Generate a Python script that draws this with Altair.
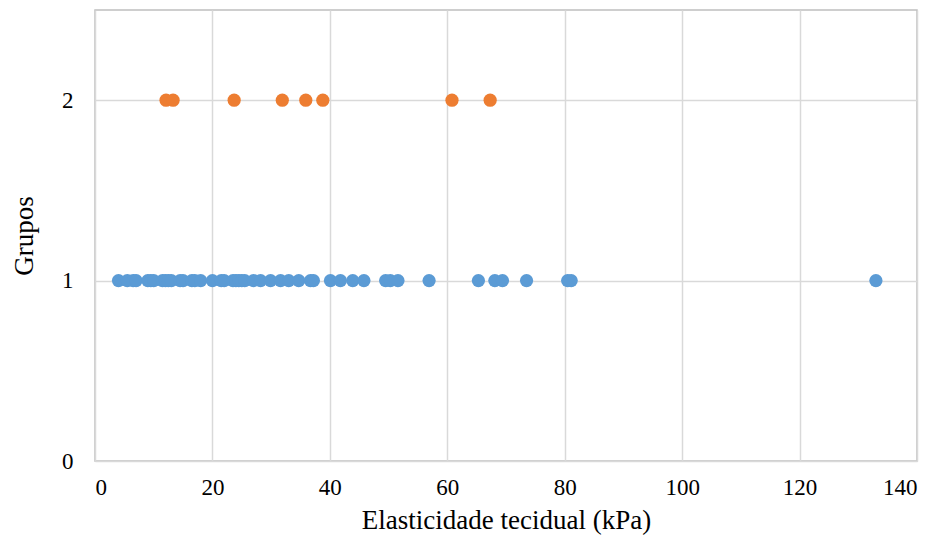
import altair as alt
import pandas as pd

grupo1 = [4, 5.5, 6.5, 7, 9, 9.5, 10, 11.5, 12, 12.5, 13, 14.5, 15, 16.5, 17, 18,
          20, 21.5, 22, 23.5, 24, 24.5, 25, 25.5, 27, 28.2, 29.9, 31.6, 33, 34.7,
          36.7, 37.2, 40.1, 41.8, 43.9, 45.8, 49.5, 50.3, 51.6, 56.9, 65.3, 68.1,
          69.4, 73.5, 80.5, 81.1, 133.0]
grupo2 = [12.1, 13.3, 23.7, 31.9, 35.9, 38.8, 60.8, 67.3]

df = pd.DataFrame({
    "x": grupo1 + grupo2,
    "y": [1] * len(grupo1) + [2] * len(grupo2),
    "g": ["1"] * len(grupo1) + ["2"] * len(grupo2),
})

font = "Liberation Serif"

chart = alt.Chart(df).mark_circle(size=175, opacity=1).encode(
    x=alt.X("x:Q", scale=alt.Scale(domain=[0, 140], nice=False),
            axis=alt.Axis(values=list(range(0, 141, 20)), title="Elasticidade tecidual (kPa)",
                          titleFont=font, titleFontSize=27, titleFontWeight="normal",
                          labelFont=font, labelFontSize=23, labelColor="#000",
                          titleColor="#000", ticks=False, domain=False,
                          gridColor="#D9D9D9", gridWidth=1.5, labelPadding=15, titlePadding=8)),
    y=alt.Y("y:Q", scale=alt.Scale(domain=[0, 2.5], nice=False),
            axis=alt.Axis(values=[0, 1, 2], title="Grupos",
                          titleFont=font, titleFontSize=27, titleFontWeight="normal",
                          labelFont=font, labelFontSize=23, labelColor="#000",
                          titleColor="#000", ticks=False, domain=False,
                          gridColor="#D9D9D9", gridWidth=1.5, labelPadding=22, titlePadding=23)),
    color=alt.Color("g:N", scale=alt.Scale(domain=["1", "2"], range=["#5B9BD5", "#ED7D31"]),
                    legend=None),
).properties(
    width=822, height=451,
    autosize=alt.AutoSizeParams(type="none"),
    padding={"left": 87, "top": 2, "right": 10, "bottom": 80},
).configure_view(stroke="#BFBFBF", strokeWidth=1.5)

chart.save("out.html", embed_options={"renderer": "svg", "actions": False})
